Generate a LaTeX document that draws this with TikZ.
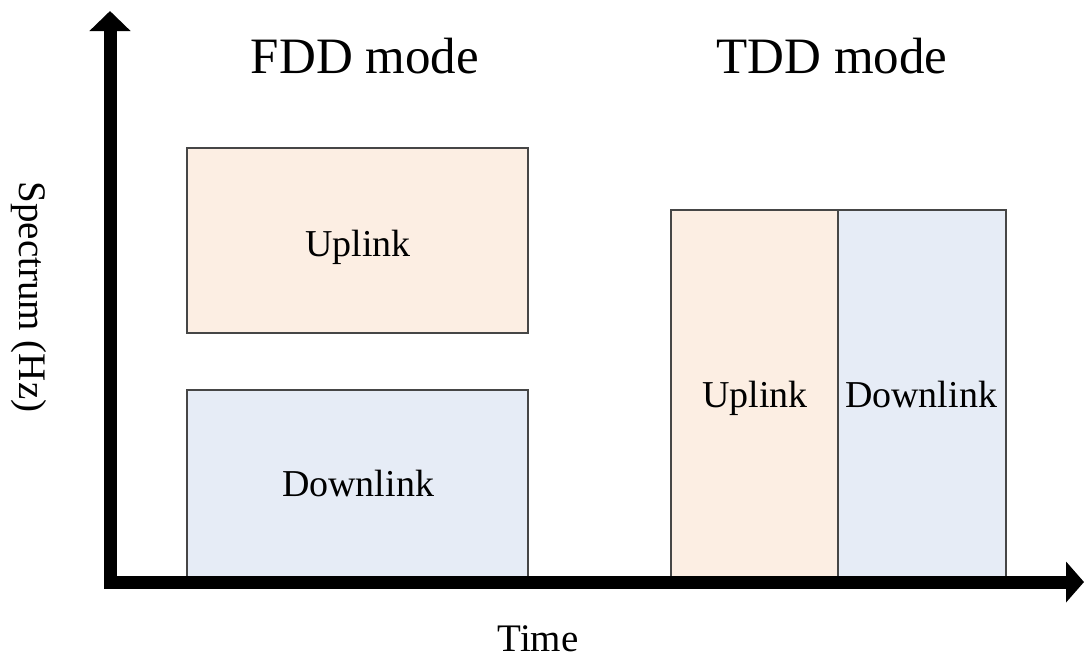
\documentclass[tikz,border=0pt]{standalone}
\usepackage{fontspec}
\setmainfont{Liberation Serif}
\usetikzlibrary{arrows.meta}
\definecolor{peach}{RGB}{252,238,227}
\definecolor{paleblue}{RGB}{230,236,246}
\definecolor{edge}{RGB}{70,70,70}
\begin{document}
\begin{tikzpicture}[x=1pt,y=-1pt,
  band/.style={draw=edge, line width=1.5pt, inner sep=0pt},
  bandtext/.style={inner sep=0pt, anchor=base, font=\fontsize{38}{40}\selectfont},
  title/.style={inner sep=0pt, anchor=base, font=\fontsize{51}{54}\selectfont},
  axlabel/.style={inner sep=0pt, font=\fontsize{39}{40}\selectfont},
  axis/.style={line width=13pt, line join=miter, {Triangle[width=40pt,length=20pt]}-{Triangle[width=40pt,length=18pt]}}]
\useasboundingbox (0,0) rectangle (1084,662);
% FDD
\node[band, fill=peach, minimum width=341pt, minimum height=185pt] (fddup) at (357.5,240.5) {};
\node[band, fill=paleblue, minimum width=341pt, minimum height=192pt] (fdddown) at (357.5,486) {};
% TDD
\node[band, fill=peach, minimum width=167pt, minimum height=372pt] (tddup) at (754.5,396) {};
\node[band, fill=paleblue, minimum width=168pt, minimum height=372pt] (tdddown) at (922,396) {};
% box labels
\node[bandtext] (fddupt) at (358,256) {Uplink};
\node[bandtext] (fdddownt) at (358,496) {Downlink};
\node[bandtext] (tddupt) at (755,407) {Uplink};
\node[bandtext] (tdddownt) at (921,407) {Downlink};
% titles
\node[title] (fddt) at (365,73) {FDD mode};
\node[title] (tddt) at (832,73) {TDD mode};
% axes
\coordinate (top) at (110,11);
\coordinate (origin) at (110,582);
\coordinate (right) at (1084,582);
\draw[axis] (top) -- (origin) -- (right);
\node[axlabel, anchor=base] (time) at (538,651) {Time};
\node[axlabel, rotate=-90] (spec) at (29,297) {Spectrum (Hz)};
\end{tikzpicture}
\end{document}
